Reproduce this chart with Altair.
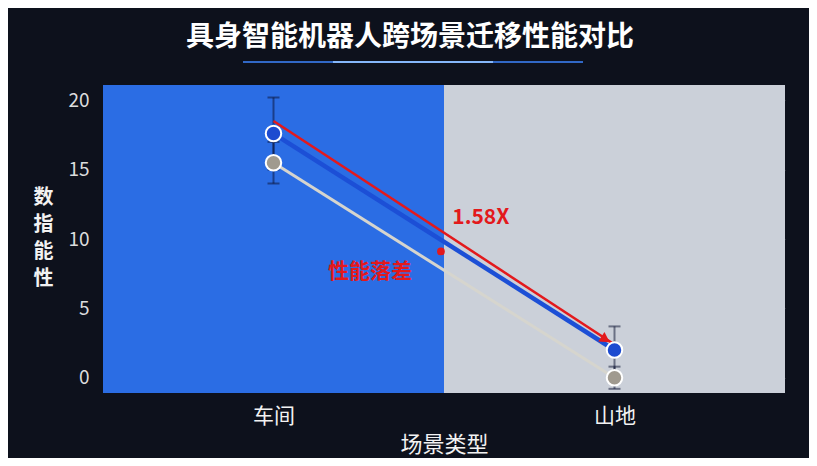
import altair as alt
import pandas as pd

# ---- data ----
scenes = ["车间", "山地"]
scene_pos = [0, 1]
blue_vals = [17.6, 2.0]
blue_lo = [15.0, 0.3]
blue_hi = [20.2, 3.7]
gray_vals = [15.5, 0.0]
gray_lo = [14.0, -0.8]
gray_hi = [17.0, 0.8]
arrow_vals = [18.5, 2.4]
y_ticks = [0, 5, 10, 15, 20]
y_domain = [-1.1, 21.1]
x_domain = [-0.5, 1.5]
title_text = "具身智能机器人跨场景迁移性能对比"
x_title = "场景类型"
y_title = ["数", "指", "能", "性"]
ratio_label = "1.58X"
gap_label = "性能落差"
ratio_pos = [0.608, 11.5]
gap_pos = [0.283, 7.6]
dot_pos = [0.491, 9.1]
bg_colors = ["#2b6de4", "#cbd0d9"]

FONT = "Noto Sans CJK SC"
RED = "#e3191c"

label_expr = " : ".join(
    [f"datum.value == {p} ? '{s}'" for p, s in zip(scene_pos, scenes)]
) + " : ''"

x_axis = alt.Axis(
    values=scene_pos, labelExpr=label_expr, title=x_title, grid=False,
    ticks=False, domain=False, labelFontSize=21, labelColor="#f2f2f2",
    labelPadding=12, titleFontSize=22, titleColor="#f2f2f2",
    titlePadding=8, titleFontWeight="normal", labelFont=FONT, titleFont=FONT,
)
y_axis = alt.Axis(
    values=y_ticks, title=y_title, grid=True, gridColor="white",
    gridOpacity=0.22, ticks=False, domain=False, labelFontSize=19,
    labelColor="#dcdcdc", labelPadding=14, titleFontSize=20,
    titleColor="#f2f2f2", titleAngle=0, titleLineHeight=27,
    titleAlign="center", titleBaseline="top", titleX=-60, titleY=102,
    titleFontWeight="bold", labelFont=FONT, titleFont=FONT,
)
x_scale = alt.Scale(domain=x_domain, nice=False, zero=False)
y_scale = alt.Scale(domain=y_domain, nice=False, zero=False)


def X(field):
    return alt.X(field, type="quantitative", scale=x_scale, axis=x_axis)


def Y(field):
    return alt.Y(field, type="quantitative", scale=y_scale, axis=y_axis)


bg = pd.DataFrame({
    "x0": [p - 0.5 for p in scene_pos],
    "x1": [p + 0.5 for p in scene_pos],
    "ytop": [y_domain[1]] * 2,
    "ybot": [y_domain[0]] * 2,
    "c": bg_colors,
})

rows = []
for i, s in enumerate(scenes):
    rows.append(dict(scene=s, pos=scene_pos[i], series="blue", v=blue_vals[i],
                     lo=blue_lo[i], hi=blue_hi[i]))
    rows.append(dict(scene=s, pos=scene_pos[i], series="gray", v=gray_vals[i],
                     lo=gray_lo[i], hi=gray_hi[i]))
df = pd.DataFrame(rows)
arrow_df = pd.DataFrame({"pos": scene_pos, "v": arrow_vals})

series_color = alt.Color(
    "series:N",
    scale=alt.Scale(domain=["blue", "gray"], range=["#1c4fd6", "#d6d5ce"]),
    legend=None,
)
point_fill = alt.Fill(
    "series:N",
    scale=alt.Scale(domain=["blue", "gray"], range=["#1d4bd0", "#a09a8f"]),
    legend=None,
)

background = alt.Chart(bg).mark_rect().encode(
    x=X("x0"), x2="x1", y=Y("ytop"), y2="ybot",
    color=alt.Color("c:N", scale=None),
)

err = alt.Chart(df).mark_rule(color="#0a1030", opacity=0.5, strokeWidth=2).encode(
    x=X("pos"), y=Y("lo"), y2="hi")
cap_lo = alt.Chart(df).mark_tick(color="#0a1030", opacity=0.5, orient="horizontal",
                                 size=12, thickness=2).encode(x=X("pos"), y=Y("lo"))
cap_hi = alt.Chart(df).mark_tick(color="#0a1030", opacity=0.5, orient="horizontal",
                                 size=12, thickness=2).encode(x=X("pos"), y=Y("hi"))

lines = alt.Chart(df).mark_line().encode(
    x=X("pos"), y=Y("v"), color=series_color, detail="series:N",
    strokeWidth=alt.StrokeWidth("series:N",
                                scale=alt.Scale(domain=["blue", "gray"], range=[4.5, 3]),
                                legend=None),
)

arrow_line = alt.Chart(arrow_df).mark_line(color=RED, strokeWidth=2.5).encode(
    x=X("pos"), y=Y("v"))
arrow_head = alt.Chart(arrow_df.iloc[[1]]).mark_point(
    shape="triangle-right", filled=True, color=RED, size=130, angle=33,
    opacity=1, xOffset=-9, yOffset=-5,
).encode(x=X("pos"), y=Y("v"))

points = alt.Chart(df).mark_point(filled=True, size=240, stroke="white",
                                  strokeWidth=2, opacity=1).encode(
    x=X("pos"), y=Y("v"), fill=point_fill)

ann = pd.DataFrame({
    "x": [ratio_pos[0], gap_pos[0]],
    "y": [ratio_pos[1], gap_pos[1]],
    "t": [ratio_label, gap_label],
})
texts = alt.Chart(ann).mark_text(color=RED, fontSize=21, fontWeight="bold",
                                 font=FONT).encode(x=X("x"), y=Y("y"), text="t:N")
dot = alt.Chart(pd.DataFrame({"x": [dot_pos[0]], "y": [dot_pos[1]]})).mark_point(
    filled=True, color=RED, size=60, opacity=1).encode(x=X("x"), y=Y("y"))

glow = alt.Chart(pd.DataFrame({"k": [0]})).mark_rule(
    color="#3d86ff", strokeWidth=2, opacity=0.75).encode(
    x=alt.value(140), x2=alt.value(480), y=alt.value(-23))
glow2 = alt.Chart(pd.DataFrame({"k": [0]})).mark_rule(
    color="#8fc0ff", strokeWidth=2, opacity=0.9).encode(
    x=alt.value(230), x2=alt.value(390), y=alt.value(-23))

chart = alt.layer(
    background, err, cap_lo, cap_hi, lines, arrow_line, arrow_head, points,
    texts, dot, glow, glow2,
).properties(
    width=682, height=308,
    autosize=alt.AutoSizeParams(type="none"),
    padding={"left": 95, "top": 77, "right": 24, "bottom": 65},
    title=alt.TitleParams(title_text, fontSize=28, fontWeight="bold",
                          color="white", font=FONT, anchor="middle",
                          dx=-34, offset=9),
).configure(
    background="#0d111c",
).configure_view(stroke=None)

chart.save("out.html", embed_options={"renderer": "svg", "actions": False})
